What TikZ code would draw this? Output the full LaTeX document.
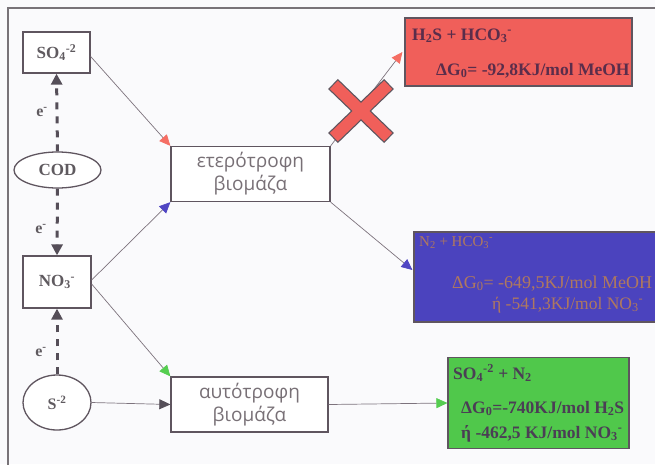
\documentclass[tikz,border=0pt]{standalone}
\usepackage{fontspec}
\setmainfont{Liberation Serif}
\newfontfamily\grk{Open Sans}
\usetikzlibrary{arrows.meta,shapes.geometric,calc}
\definecolor{bgc}{RGB}{250,250,252}
\definecolor{framec}{RGB}{120,115,120}
\definecolor{boxc}{RGB}{95,85,95}
\definecolor{linec}{RGB}{125,115,125}
\definecolor{darkc}{RGB}{85,78,88}
\definecolor{lblc}{RGB}{95,90,95}
\definecolor{grkc}{RGB}{120,112,118}
\definecolor{redf}{RGB}{240,95,90}
\definecolor{bluef}{RGB}{75,67,190}
\definecolor{greenf}{RGB}{80,200,75}
\definecolor{redt}{RGB}{90,45,75}
\definecolor{bluet}{RGB}{175,120,95}
\definecolor{greent}{RGB}{75,62,85}
\definecolor{redtip}{RGB}{245,110,100}
\definecolor{bluetip}{RGB}{80,70,195}
\definecolor{greentip}{RGB}{85,205,80}
\tikzset{
  chembox/.style={draw=boxc,line width=1.3pt,fill=white,inner sep=0pt,
    font=\fontsize{17}{20}\selectfont\bfseries,text=lblc},
  chemell/.style={ellipse,draw=boxc,line width=1.3pt,fill=white,inner sep=0pt,
    font=\fontsize{17}{20}\selectfont\bfseries,text=lblc},
  biobox/.style={draw=boxc,line width=1.3pt,fill=white,inner sep=0pt,align=center,
    font=\grk\fontsize{19}{23}\selectfont,text=grkc},
  resbox/.style={draw=boxc,line width=1.2pt,inner sep=0pt},
  flow/.style={draw=linec,line width=0.7pt},
  dasharrow/.style={draw=darkc,line width=3pt,dash pattern=on 7pt off 7pt,
    -{Triangle[length=11pt,width=11pt,color=darkc]}},
  elbl/.style={font=\fontsize{16}{18}\selectfont\bfseries,text=lblc,inner sep=0pt},
  rtxt/.style={anchor=base west,inner sep=0pt,font=\fontsize{17.5}{20}\selectfont\bfseries},
  btxt/.style={anchor=base west,inner sep=0pt,font=\fontsize{17.5}{20}\selectfont,text=bluet},
}
\begin{document}
\begin{tikzpicture}[x=1pt,y=-1pt]
\fill[bgc] (0,0) rectangle (655,464);
\useasboundingbox (0,0) rectangle (655,464);
\clip (0,0) rectangle (655,464);
\draw[framec,line width=1.2pt] (8,470) -- (8,8) -- (660,8);

% left column
\node[chembox,minimum width=67pt,minimum height=41pt] (so4) at (56.5,52.5) {SO\textsubscript{4}\textsuperscript{-2}};
\node[chemell,minimum width=87pt,minimum height=36pt] (cod) at (57.5,170) {COD};
\node[chembox,minimum width=68pt,minimum height=52pt] (no3) at (57,282) {NO\textsubscript{3}\textsuperscript{-}};
\node[chemell,minimum width=68pt,minimum height=55pt,font=\fontsize{16}{18}\selectfont\bfseries] (s2) at (57,402.5) {S\textsuperscript{-2}};

\draw[dasharrow] (cod.north) -- (so4.south);
\draw[dasharrow] (cod.south) -- (no3.north);
\draw[dasharrow] (s2.north) -- (no3.south);
\node[elbl] (e1) at (42,112) {e\textsuperscript{-}};
\node[elbl] (e2) at (41,229) {e\textsuperscript{-}};
\node[elbl] (e3) at (41,352) {e\textsuperscript{-}};

% biomass boxes
\node[biobox,minimum width=159pt,minimum height=55pt] (het) at (250.5,174) {ετερότροφη\\βιομάζα};
\node[biobox,minimum width=157pt,minimum height=55pt] (aut) at (249.5,404.5) {αυτότροφη\\βιομάζα};

% result boxes
\node[resbox,fill=redf,minimum width=227pt,minimum height=68pt] (red) at (518.5,52) {};
\node[resbox,fill=bluef,minimum width=251pt,minimum height=90pt] (blue) at (539.5,277) {};
\node[resbox,fill=greenf,minimum width=181pt,minimum height=91pt] (green) at (538.5,403) {};

\node[rtxt,text=redt] (r1) at (412,40) {H\textsubscript{2}S + HCO\textsubscript{3}\textsuperscript{-}};
\node[rtxt,text=redt] (r2) at (436,75) {ΔG\textsubscript{0}= -92,8KJ/mol MeOH};

\node[btxt,font=\fontsize{15}{17}\selectfont] (b1) at (419,246) {N\textsubscript{2} + HCO\textsubscript{3}\textsuperscript{-}};
\node[btxt,font=\fontsize{18}{20}\selectfont] (b2) at (452,288) {ΔG\textsubscript{0}= -649,5KJ/mol MeOH};
\node[btxt] (b3) at (492,309) {ή -541,3KJ/mol  NO\textsubscript{3}\textsuperscript{-}};

\node[rtxt,text=greent] (g1) at (453,379) {SO\textsubscript{4}\textsuperscript{-2} + N\textsubscript{2}};
\node[rtxt,text=greent] (g2) at (461,413) {ΔG\textsubscript{0}=-740KJ/mol H\textsubscript{2}S};
\node[rtxt,text=greent] (g3) at (461,438) {ή -462,5 KJ/mol  NO\textsubscript{3}\textsuperscript{-}};

% flows
\draw[flow,-{Triangle[length=11pt,width=10pt,color=redtip]}] ($(so4.east)+(0,4)$) -- (het.north west);
\draw[flow,-{Triangle[length=11pt,width=10pt,color=bluetip]}] ($(no3.east)+(0,-2)$) -- (het.south west);
\draw[flow,-{Triangle[length=11pt,width=10pt,color=greentip]}] ($(no3.east)+(0,2)$) -- (aut.north west);
\draw[flow,-{Triangle[length=11pt,width=10pt,color=darkc]}] (s2.east) -- (aut.west);
\draw[flow,-{Triangle[length=11pt,width=10pt,color=redtip]}] (het.north east) -- ($(red.west)+(-2,0)$);
\draw[flow,-{Triangle[length=11pt,width=10pt,color=bluetip]}] (het.south east) -- ($(blue.west)+(-1,-7)$);
\draw[flow,-{Triangle[length=11pt,width=10pt,color=greentip]}] (aut.east) -- (green.west);

% cross
\coordinate (cx) at (361,111);
\draw[boxc,line width=14pt] ($(cx)+(-28,-27)$) -- ($(cx)+(28,27)$);
\draw[boxc,line width=14pt] ($(cx)+(-28,27)$) -- ($(cx)+(28,-27)$);
\draw[redf,line width=11.5pt,shorten <=1.2pt,shorten >=1.2pt] ($(cx)+(-28,-27)$) -- ($(cx)+(28,27)$);
\draw[redf,line width=11.5pt,shorten <=1.2pt,shorten >=1.2pt] ($(cx)+(-28,27)$) -- ($(cx)+(28,-27)$);
\end{tikzpicture}
\end{document}
